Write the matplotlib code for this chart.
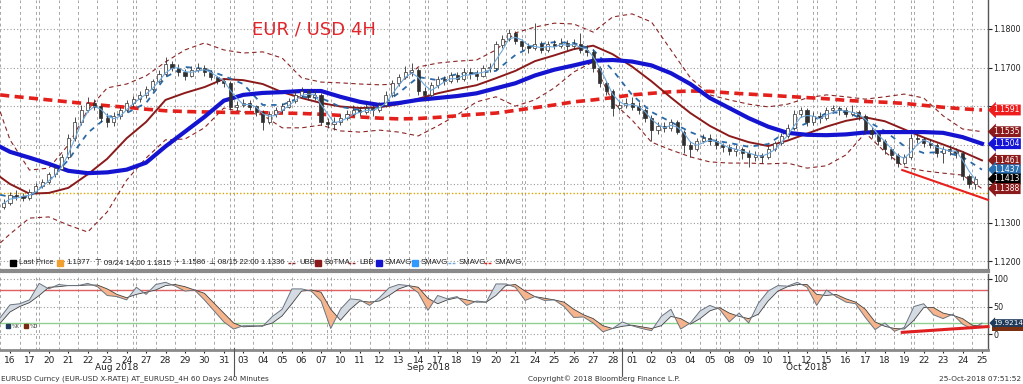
import numpy as np
import pandas as pd
import matplotlib
matplotlib.use('Agg')
import matplotlib.pyplot as plt
from matplotlib import transforms
from matplotlib.patches import Rectangle

plt.rcParams['font.family'] = ['DejaVu Sans']

# ---------------- data ----------------
day_labels = ['16', '17', '20', '21', '22', '23', '24', '27', '28', '29', '30', '31',
              '03', '04', '05', '06', '07', '10', '11', '12', '13', '14', '17', '18', '19', '20',
              '21', '24', '25', '26', '27', '28',
              '01', '02', '03', '04', '05', '08', '09', '10', '11', '12', '15', '16', '17', '18',
              '19', '22', '23', '24', '25']
month_names = ['Aug 2018', 'Sep 2018', 'Oct 2018']
month_first_day = [0, 12, 32]
monday_idx = [2, 7, 12, 17, 22, 27, 32, 37, 42, 47]

# 4H price, three candles per trading day (last day: one)
first_open = 1.1340
closes = [1.1350, 1.1372, 1.1368,  1.1365, 1.1380, 1.1395,  1.1405, 1.1425, 1.1440,
          1.1470, 1.1520, 1.1560,  1.1590, 1.1610, 1.1600,  1.1570, 1.1560, 1.1575,
          1.1590, 1.1610, 1.1620,  1.1630, 1.1645, 1.1665,  1.1685, 1.1710, 1.1700,
          1.1690, 1.1680, 1.1695,  1.1700, 1.1690, 1.1675,  1.1665, 1.1660, 1.1600,
          1.1605, 1.1610, 1.1600,  1.1585, 1.1560, 1.1580,  1.1590, 1.1600, 1.1615,
          1.1630, 1.1640, 1.1625,  1.1630, 1.1560, 1.1555,  1.1560, 1.1570, 1.1580,
          1.1590, 1.1585, 1.1595,  1.1590, 1.1605, 1.1630,  1.1660, 1.1675, 1.1690,
          1.1695, 1.1640, 1.1630,  1.1655, 1.1670, 1.1665,  1.1680, 1.1670, 1.1690,
          1.1685, 1.1680, 1.1700,  1.1700, 1.1760, 1.1775,  1.1790, 1.1770, 1.1755,
          1.1750, 1.1760, 1.1745,  1.1760, 1.1755, 1.1765,  1.1755, 1.1760, 1.1745,
          1.1740, 1.1700, 1.1660,  1.1640, 1.1595, 1.1605,  1.1610, 1.1600, 1.1590,
          1.1570, 1.1540, 1.1550,  1.1545, 1.1560, 1.1535,  1.1500, 1.1490, 1.1510,
          1.1520, 1.1510, 1.1500,  1.1495, 1.1485, 1.1490,  1.1480, 1.1470, 1.1475,
          1.1470, 1.1490, 1.1505,  1.1525, 1.1545, 1.1580,  1.1590, 1.1560, 1.1575,
          1.1570, 1.1590, 1.1595,  1.1590, 1.1580, 1.1585,  1.1575, 1.1540, 1.1530,
          1.1510, 1.1490, 1.1475,  1.1455, 1.1470, 1.1520,  1.1515, 1.1505, 1.1500,
          1.1480, 1.1490, 1.1485,  1.1480, 1.1420, 1.1400,  1.1413]
highs = [1.1362, 1.1380, 1.1385,  1.1378, 1.1388, 1.1402,  1.1412, 1.1432, 1.1448,
         1.1478, 1.1528, 1.1572,  1.1605, 1.1625, 1.1620,  1.1605, 1.1582, 1.1585,
         1.1600, 1.1618, 1.1628,  1.1640, 1.1652, 1.1672,  1.1695, 1.1728, 1.1718,
         1.1710, 1.1698, 1.1705,  1.1712, 1.1708, 1.1695,  1.1680, 1.1672, 1.1665,
         1.1615, 1.1620, 1.1618,  1.1605, 1.1590, 1.1588,  1.1598, 1.1608, 1.1622,
         1.1640, 1.1650, 1.1645,  1.1642, 1.1635, 1.1570,  1.1572, 1.1580, 1.1590,
         1.1605, 1.1600, 1.1610,  1.1605, 1.1612, 1.1640,  1.1668, 1.1685, 1.1705,
         1.1712, 1.1700, 1.1650,  1.1662, 1.1680, 1.1678,  1.1690, 1.1688, 1.1700,
         1.1700, 1.1695, 1.1708,  1.1712, 1.1768, 1.1785,  1.1800, 1.1795, 1.1775,
         1.1765, 1.1815, 1.1768,  1.1770, 1.1772, 1.1778,  1.1772, 1.1775, 1.1790,
         1.1760, 1.1745, 1.1705,  1.1665, 1.1645, 1.1615,  1.1622, 1.1625, 1.1612,
         1.1595, 1.1578, 1.1560,  1.1560, 1.1568, 1.1565,  1.1540, 1.1510, 1.1520,
         1.1530, 1.1528, 1.1518,  1.1505, 1.1502, 1.1500,  1.1495, 1.1488, 1.1485,
         1.1480, 1.1498, 1.1512,  1.1532, 1.1555, 1.1590,  1.1600, 1.1595, 1.1585,
         1.1585, 1.1598, 1.1605,  1.1602, 1.1598, 1.1605,  1.1592, 1.1580, 1.1548,
         1.1535, 1.1515, 1.1495,  1.1480, 1.1478, 1.1530,  1.1532, 1.1522, 1.1515,
         1.1505, 1.1498, 1.1500,  1.1492, 1.1485, 1.1425,  1.1420]
lows = [1.1336, 1.1345, 1.1358,  1.1355, 1.1360, 1.1376,  1.1390, 1.1400, 1.1418,
        1.1436, 1.1465, 1.1512,  1.1552, 1.1585, 1.1590,  1.1560, 1.1547, 1.1550,
        1.1568, 1.1585, 1.1600,  1.1612, 1.1622, 1.1640,  1.1660, 1.1680, 1.1692,
        1.1680, 1.1668, 1.1675,  1.1688, 1.1680, 1.1668,  1.1658, 1.1650, 1.1592,
        1.1592, 1.1598, 1.1590,  1.1575, 1.1540, 1.1555,  1.1572, 1.1582, 1.1595,
        1.1610, 1.1625, 1.1618,  1.1618, 1.1552, 1.1545,  1.1540, 1.1552, 1.1565,
        1.1575, 1.1575, 1.1580,  1.1575, 1.1585, 1.1600,  1.1625, 1.1652, 1.1670,
        1.1680, 1.1630, 1.1618,  1.1625, 1.1648, 1.1655,  1.1660, 1.1662, 1.1665,
        1.1672, 1.1668, 1.1675,  1.1690, 1.1695, 1.1752,  1.1770, 1.1762, 1.1745,
        1.1738, 1.1745, 1.1738,  1.1740, 1.1748, 1.1750,  1.1745, 1.1748, 1.1738,
        1.1730, 1.1690, 1.1650,  1.1630, 1.1575, 1.1590,  1.1595, 1.1592, 1.1580,
        1.1560, 1.1510, 1.1530,  1.1535, 1.1538, 1.1528,  1.1480, 1.1470, 1.1485,
        1.1505, 1.1500, 1.1490,  1.1482, 1.1475, 1.1472,  1.1465, 1.1445, 1.1460,
        1.1455, 1.1465, 1.1485,  1.1500, 1.1520, 1.1540,  1.1572, 1.1550, 1.1552,
        1.1558, 1.1565, 1.1582,  1.1578, 1.1572, 1.1575,  1.1565, 1.1530, 1.1520,
        1.1500, 1.1478, 1.1465,  1.1444, 1.1448, 1.1465,  1.1505, 1.1495, 1.1492,
        1.1470, 1.1455, 1.1475,  1.1468, 1.1410, 1.1390,  1.1388]

# overlay studies, one value per trading day (plus the left edge)
line_days = [-0.5] + list(range(51))
sma_blue = [1.1496, 1.1483, 1.1468, 1.1452, 1.1434, 1.1428, 1.1430, 1.1437, 1.1455, 1.1497,
            1.1535, 1.1573, 1.1615, 1.1630, 1.1635, 1.1637, 1.1640, 1.1640, 1.1625, 1.1612,
            1.1604, 1.1609, 1.1617, 1.1622, 1.1627, 1.1634, 1.1647, 1.1660, 1.1680, 1.1695,
            1.1706, 1.1718, 1.1720, 1.1716, 1.1706, 1.1686, 1.1658, 1.1622, 1.1596, 1.1570,
            1.1548, 1.1532, 1.1527, 1.1526, 1.1528, 1.1533, 1.1534, 1.1534, 1.1534, 1.1532,
            1.1521, 1.1504]
sma_red = [1.1630, 1.1627, 1.1622, 1.1617, 1.1612, 1.1607, 1.1602, 1.1598, 1.1593, 1.1589,
           1.1587, 1.1586, 1.1585, 1.1584, 1.1584, 1.1583, 1.1582, 1.1580, 1.1577, 1.1573,
           1.1570, 1.1568, 1.1569, 1.1572, 1.1576, 1.1580, 1.1583, 1.1590, 1.1597, 1.1604,
           1.1612, 1.1617, 1.1623, 1.1630, 1.1634, 1.1638, 1.1640, 1.1639, 1.1635, 1.1632,
           1.1629, 1.1626, 1.1623, 1.1620, 1.1616, 1.1613, 1.1611, 1.1608, 1.1603, 1.1598,
           1.1594, 1.1591]
sma_dash = [1.1372, 1.1367, 1.1367, 1.1408, 1.1462, 1.1532, 1.1573, 1.1583, 1.1609, 1.1676,
            1.1702, 1.1697, 1.1679, 1.1658, 1.1604, 1.1604, 1.1625, 1.1622, 1.1599, 1.1591,
            1.1599, 1.1635, 1.1676, 1.1668, 1.1684, 1.1686, 1.1692, 1.1733, 1.1759, 1.1766,
            1.1764, 1.1746, 1.1694, 1.1630, 1.1586, 1.1560, 1.1534, 1.1514, 1.1506, 1.1496,
            1.1503, 1.1537, 1.1557, 1.1583, 1.1586, 1.1565, 1.1537, 1.1498, 1.1480, 1.1483,
            1.1470, 1.1437]
botma = [1.1418, 1.1400, 1.1375, 1.1377, 1.1390, 1.1425, 1.1465, 1.1518, 1.1560, 1.1617,
         1.1635, 1.1650, 1.1671, 1.1668, 1.1658, 1.1637, 1.1622, 1.1609, 1.1600, 1.1596,
         1.1598, 1.1606, 1.1620, 1.1634, 1.1645, 1.1655, 1.1673, 1.1692, 1.1717, 1.1732,
         1.1748, 1.1757, 1.1735, 1.1703, 1.1665, 1.1623, 1.1583, 1.1550, 1.1524, 1.1508,
         1.1498, 1.1512, 1.1530, 1.1548, 1.1563, 1.1572, 1.1562, 1.1541, 1.1520, 1.1502,
         1.1483, 1.1461]
upper_bb = [1.1586, 1.1514, 1.1436, 1.1441, 1.1501, 1.1591, 1.1648, 1.1658, 1.1679, 1.1715,
            1.1746, 1.1764, 1.1746, 1.1738, 1.1741, 1.1725, 1.1674, 1.1663, 1.1661, 1.1658,
            1.1656, 1.1658, 1.1702, 1.1712, 1.1717, 1.1720, 1.1746, 1.1790, 1.1805, 1.1815,
            1.1813, 1.1792, 1.1831, 1.1839, 1.1818, 1.1746, 1.1674, 1.1630, 1.1617, 1.1606,
            1.1599, 1.1606, 1.1622, 1.1630, 1.1625, 1.1619, 1.1625, 1.1632, 1.1622, 1.1576,
            1.1542, 1.1535]
lower_bb = [1.1248, 1.1271, 1.1312, 1.1315, 1.1294, 1.1276, 1.1328, 1.1410, 1.1467, 1.1514,
            1.1516, 1.1545, 1.1596, 1.1586, 1.1578, 1.1545, 1.1545, 1.1552, 1.1537, 1.1534,
            1.1539, 1.1534, 1.1524, 1.1550, 1.1578, 1.1612, 1.1625, 1.1601, 1.1617, 1.1648,
            1.1689, 1.1715, 1.1612, 1.1565, 1.1508, 1.1488, 1.1470, 1.1457, 1.1454, 1.1454,
            1.1452, 1.1454, 1.1441, 1.1447, 1.1475, 1.1532, 1.1483, 1.1444, 1.1434, 1.1428,
            1.1423, 1.1388]

last_price_line = 1.1377
trend_days = [45.9, 50.31]
trend_vals = [1.1436, 1.1359]

tag_vals = [1.1591, 1.1535, 1.1504, 1.1461, 1.1437, 1.1413, 1.1388]
tag_cols = ['#ee1c1c', '#8b1a1a', '#1414d8', '#8b1a1a', '#2a6fb0', '#000000', '#8b1a1a']

# slow stochastic, two readings per trading day
stoch_k = [30, 53, 55, 62, 92, 82, 90, 88, 88, 92, 86, 70, 68, 62, 85, 72, 90, 94, 87, 78,
           80, 62, 42, 22, 9, 15, 15, 14, 32, 45, 82, 82, 78, 60, 10, 45, 64, 62, 52, 66,
           84, 90, 88, 75, 43, 70, 64, 68, 52, 60, 58, 91, 91, 85, 61, 68, 61, 62, 50, 30,
           31, 20, 4, 10, 22, 15, 10, 6, 32, 45, 9, 20, 42, 52, 45, 22, 38, 20, 56, 78,
           88, 87, 94, 85, 52, 80, 68, 58, 55, 30, 8, 20, 5, 12, 50, 55, 35, 28, 36, 18,
           9, 19.9214]
stoch_d = [20, 40, 50, 57, 70, 85, 86, 88, 88, 89, 89, 82, 72, 66, 72, 76, 80, 88, 90, 86,
           80, 74, 56, 38, 20, 13, 14, 15, 20, 33, 55, 78, 80, 76, 45, 25, 45, 60, 58, 60,
           70, 82, 88, 85, 65, 55, 62, 66, 62, 58, 58, 70, 88, 90, 78, 68, 65, 62, 58, 45,
           35, 28, 15, 10, 14, 16, 13, 10, 15, 32, 28, 18, 28, 42, 48, 38, 32, 28, 36, 60,
           78, 86, 90, 90, 72, 70, 72, 64, 58, 45, 22, 14, 10, 9, 25, 48, 48, 38, 34, 28,
           16, 14]
stoch_trend_days = [45.9, 50.31]
stoch_trend_vals = [3, 13.5]

# ---------------- figure ----------------
W, H = 1023, 384
fig = plt.figure(figsize=(W / 100, H / 100), dpi=100)
ax = fig.add_axes([0, 113 / H, 988 / W, 271 / H])
ax2 = fig.add_axes([0, 34 / H, 988 / W, 76 / H])

xmin, xmax = -0.514, 50.31
grid_c = '#a6a6a6'

for a in (ax, ax2):
    a.set_xlim(xmin, xmax)
    a.set_facecolor('white')
    for s in ('left', 'top'):
        a.spines[s].set_visible(False)
    a.spines['right'].set_color('#555555')
    a.spines['right'].set_linewidth(1)
    # day separators, doubled at week starts
    for b in np.arange(-0.5, 50, 1.0):
        a.axvline(b, color=grid_c, lw=0.7, ls=(0, (3, 3)), zorder=0)
    for m in monday_idx:
        a.axvline(m - 0.5 - 0.17, color=grid_c, lw=0.7, ls=(0, (3, 3)), zorder=0)

ax.spines['bottom'].set_color('#8a8a8a')
ax.spines['bottom'].set_linewidth(3)
ax2.spines['bottom'].set_color('#8a8a8a')
ax2.spines['bottom'].set_linewidth(2)

# ---- main price panel ----
ax.set_ylim(1.18 - 242 / 3875, 1.18 + 29 / 3875)
yt = np.arange(1.12, 1.1801, 0.01)
for v in yt:
    ax.axhline(v, color='#9a9a9a', lw=0.8, ls=(0, (1, 2)), zorder=0)
ax.axhline(last_price_line, color='#d9a400', lw=1.0, ls=(0, (1, 1.5)), zorder=1)

ax.yaxis.tick_right()
ax.set_yticks(yt)
ax.set_yticklabels(['%.4f' % v if (v < 1.135 or v > 1.165) else '' for v in yt])
ax.tick_params(axis='y', labelsize=5.8, length=3, pad=1, colors='#222222')
ax.set_xticks([])

ax.plot(line_days, upper_bb, color='#8b2525', lw=0.8, ls=(0, (4, 3)), zorder=3)
ax.plot(line_days, lower_bb, color='#8b2525', lw=0.8, ls=(0, (4, 3)), zorder=3)
ax.plot(line_days, sma_red, color='#e3201c', lw=2.6, ls=(0, (2.5, 1.5)), zorder=4)
ax.plot(line_days, botma, color='#8b1a1a', lw=1.4, zorder=5)
ax.plot(line_days, sma_blue, color='#1414d0', lw=3.0, zorder=6)
ax.plot(line_days, sma_dash, color='#2a6aa8', lw=1.3, ls=(0, (3, 3)), zorder=5)

closes_a = np.array(closes)
highs_a = np.array(highs)
lows_a = np.array(lows)
cx = np.arange(len(closes_a)) / 3 - 1 / 3
opens_a = np.r_[first_open, closes_a[:-1]]
up = closes_a >= opens_a
lo = np.minimum(opens_a, closes_a)
bh = np.maximum(np.abs(closes_a - opens_a), 0.0002)
wick_lo = np.minimum(lows_a, lo)
wick_hi = np.maximum(highs_a, lo + bh)
ax.vlines(cx, wick_lo, wick_hi, color='#303030', lw=0.6, zorder=7)
ax.bar(cx[up], bh[up], bottom=lo[up], width=0.16, color='white', edgecolor='#303030', lw=0.5, zorder=8)
ax.bar(cx[~up], bh[~up], bottom=lo[~up], width=0.16, color='#303030', edgecolor='#303030', lw=0.5, zorder=8)

short_sma = pd.Series(closes_a).rolling(3, min_periods=1).mean()
ax.plot(cx, short_sma, color='#6ea8dc', lw=0.8, zorder=9)

ax.plot(trend_days, trend_vals, color='#e8201e', lw=1.5, zorder=9, clip_on=False)

ax.text(314 / 988, 1 - 30 / 271, 'EUR / USD 4H', transform=ax.transAxes, color='#e0262b',
        fontsize=13, ha='center', va='center')

tr = transforms.blended_transform_factory(ax.transAxes, ax.transData)
for v, c in zip(tag_vals, tag_cols):
    ax.text(1.0055, v, '%.4f' % v, transform=tr, ha='left', va='center', fontsize=5.5, color='white',
            bbox=dict(boxstyle='larrow,pad=0.12', fc=c, ec='none'), clip_on=False, zorder=20)

# legend row
ly = 1 - 263 / 271
leg_font = ['Liberation Sans', 'DejaVu Sans']
def sq(xp, col):
    ax.plot([xp / 988], [ly], marker='s', ms=4.5, color=col, transform=ax.transAxes, clip_on=False, zorder=20)
def dash_icon(xp, col):
    ax.plot([xp / 988 - 0.004, xp / 988 + 0.004], [ly, ly], color=col, lw=1, ls=(0, (2, 1)),
            transform=ax.transAxes, clip_on=False, zorder=20)
def ltxt(xp, s):
    ax.text(xp / 988, ly, s, transform=ax.transAxes, fontsize=5.6, va='center', ha='left',
            color='#222222', family=leg_font, zorder=20)

sq(13, '#000000'); ltxt(19, 'Last Price')
sq(60, '#f0a030'); ltxt(66, '1.1377')
ltxt(95, '⊤ 09/24 14:00 1.1815')
ltxt(175, '+ 1.1586')
ltxt(209, '⊥ 08/15 22:00 1.1336')
dash_icon(292, '#8b2525'); ltxt(299, 'UBB')
sq(318, '#8b1a1a'); ltxt(324, 'BoTMA')
dash_icon(352, '#8b2525'); ltxt(359, 'LBB')
sq(379, '#1414d0'); ltxt(385, 'SMAVG')
sq(415, '#3399ff'); ltxt(421, 'SMAVG')
dash_icon(452, '#6ea8dc'); ltxt(459, 'SMAVG')
dash_icon(488, '#e3201c'); ltxt(495, 'SMAVG')

# ---- stochastic panel ----
ax2.set_ylim(-16 / 0.55, 100 + 5 / 0.55)
for v in (0, 50, 100):
    ax2.axhline(v, color='#9a9a9a', lw=0.8, ls=(0, (1, 2)), zorder=0)
ax2.axhline(80, color='#e06060', lw=1.0, zorder=1)
ax2.axhline(20, color='#8fcf8f', lw=1.0, zorder=1)

sd = np.arange(len(stoch_k)) / 2 - 0.5
k = np.array(stoch_k, dtype=float)
d = np.array(stoch_d, dtype=float)
ax2.fill_between(sd, k, d, where=k >= d, interpolate=True, color='#d5dbe3', lw=0, zorder=2)
ax2.fill_between(sd, k, d, where=k < d, interpolate=True, color='#f6b48c', lw=0, zorder=2)
ax2.plot(sd, d, color='#404040', lw=0.6, zorder=3)
ax2.plot(sd, k, color='#6a7480', lw=0.7, zorder=3)
ax2.plot(stoch_trend_days, stoch_trend_vals, color='#e02020', lw=2.2, zorder=4, clip_on=False)

ax2.yaxis.tick_right()
ax2.set_yticks([0, 50, 100])
ax2.tick_params(axis='y', labelsize=5.8, length=3, pad=1, colors='#222222')
ax2.set_xticks(range(len(day_labels)))
ax2.set_xticklabels(day_labels)
ax2.tick_params(axis='x', labelsize=6.5, length=2, pad=2, colors='#222222')

tr2 = transforms.blended_transform_factory(ax2.transAxes, ax2.transData)
ax2.add_patch(Rectangle((1.004, 6), 0.04, 11, transform=tr2, fc='#7a3010', ec='none',
                        clip_on=False, zorder=19))
ax2.text(1.0055, stoch_k[-1], '%.4f' % stoch_k[-1], transform=tr2, ha='left', va='center', fontsize=5.2,
         color='white', bbox=dict(boxstyle='larrow,pad=0.12', fc='#1f3a5a', ec='none'), clip_on=False, zorder=20)

sly = (350 - 326) / 76
ax2.plot([8 / 988], [sly], marker='s', ms=3.5, color='#1f3a5a', transform=ax2.transAxes, zorder=20)
ax2.text(12 / 988, sly, '%K', transform=ax2.transAxes, fontsize=3.5, va='center', color='#333333')
ax2.plot([26 / 988], [sly], marker='s', ms=3.5, color='#7a2a10', transform=ax2.transAxes, zorder=20)
ax2.text(30 / 988, sly, '%D', transform=ax2.transAxes, fontsize=3.5, va='center', color='#333333')

# month labels and separators
btr = transforms.blended_transform_factory(ax2.transData, fig.transFigure)
bounds = month_first_day + [len(day_labels)]
for j, name in enumerate(month_names):
    c = (bounds[j] + bounds[j + 1] - 1) / 2
    fig.text(c, 16 / H, name, transform=btr, fontsize=6.5, ha='center', va='center', color='#222222')
for b in month_first_day[1:]:
    fig.add_artist(plt.Line2D([b - 0.5, b - 0.5], [36 / H, 8 / H], transform=btr, color='#555555', lw=0.8))

fig.text(0.001, 5 / H, 'EURUSD Curncy (EUR-USD X-RATE) AT_EURUSD_4H 60 Days 240 Minutes',
         fontsize=5.3, va='center', ha='left', color='#333333')
fig.text(604 / W, 5 / H, 'Copyright© 2018 Bloomberg Finance L.P.', fontsize=5.3, va='center',
         ha='center', color='#333333')
fig.text(0.998, 5 / H, '25-Oct-2018 07:51:52', fontsize=5.3, va='center', ha='right', color='#333333')

fig.savefig('out.png', dpi=100, facecolor='white')
